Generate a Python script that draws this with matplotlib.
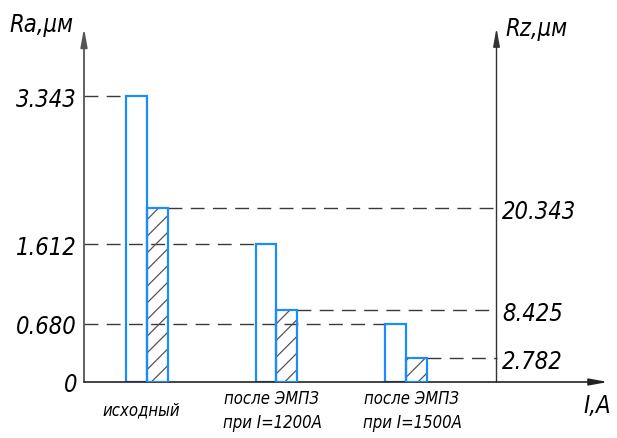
import matplotlib
matplotlib.use("Agg")
import matplotlib.pyplot as plt

# values
categories = ['исходный', 'после ЭМПЗ\nпри I=1200А', 'после ЭМПЗ\nпри I=1500А']
ra_values = [3.343, 1.612, 0.680]
rz_values = [20.343, 8.425, 2.782]
ra_ticks = [0, 0.680, 1.612, 3.343]
ra_ticklabels = ['0', '0.680', '1.612', '3.343']
rz_ticks = [2.782, 8.425, 20.343]
rz_ticklabels = ['2.782', '8.425', '20.343']

plt.rcParams['font.family'] = ['DejaVu Sans']
plt.rcParams['font.style'] = 'italic'
plt.rcParams['font.stretch'] = 'condensed'
plt.rcParams['hatch.linewidth'] = 0.9

BLUE = '#1a8cff'
DASH = '#3a3a3a'
W = 0.162          # bar width (data units)
X_RIGHT = 2.699    # x position of the Rz axis

fig = plt.figure(figsize=(6.17, 4.39), dpi=100)
ax = fig.add_axes([84 / 617, 56 / 439, 524 / 617, 354 / 439])
ax.set_xlim(-0.4865, 3.56)
ax.set_ylim(0, 4.138)
ax2 = ax.twinx()
ax2.set_ylim(0, 41.45)

for a in (ax, ax2):
    for s in a.spines.values():
        s.set_visible(False)
    a.patch.set_visible(False)
ax.set_xticks([])

x = list(range(len(categories)))

# dashed reference lines
for xi, v in zip(x, ra_values):
    ax.hlines(v, ax.get_xlim()[0], xi - W, colors=DASH, linewidth=1,
              linestyles=(0, (10, 6)), zorder=1)
for xi, v in zip(x, rz_values):
    ax2.hlines(v, xi + W, X_RIGHT, colors=DASH, linewidth=1,
               linestyles=(0, (10, 6)), zorder=1)

# bars: Ra open, Rz hatched
ax.bar(x, ra_values, width=-W, align='edge', fill=False,
       edgecolor=BLUE, linewidth=1.6, zorder=3)
ax2.bar(x, rz_values, width=W, align='edge', facecolor='none',
        edgecolor='#555555', linewidth=0, hatch='//', zorder=2)
ax2.bar(x, rz_values, width=W, align='edge', fill=False,
        edgecolor=BLUE, linewidth=1.6, zorder=3)

# axes with arrows
arr = dict(arrowstyle='-|>,head_length=1.1,head_width=0.2', shrinkA=0, shrinkB=0)
ax.annotate('', xy=(0, 1), xytext=(0, 0), xycoords='axes fraction',
            arrowprops=dict(arr, color='#555555', lw=1.3), annotation_clip=False)
ax.annotate('', xy=(X_RIGHT, 1), xytext=(X_RIGHT, 0),
            xycoords=('data', 'axes fraction'),
            arrowprops=dict(arr, color='#333333', lw=1), annotation_clip=False)
ax.annotate('', xy=(1, 0), xytext=(0, 0), xycoords='axes fraction',
            arrowprops=dict(arr, color='#222222', lw=1.2), annotation_clip=False)

# tick labels
ax.set_yticks(ra_ticks)
ax.set_yticklabels(ra_ticklabels)
ax.tick_params(axis='y', length=0, pad=5, labelsize=17)
ax2.spines['right'].set_position(('data', X_RIGHT))
ax2.set_yticks(rz_ticks)
ax2.set_yticklabels(rz_ticklabels)
ax2.tick_params(axis='y', length=0, pad=4, labelsize=17)

# category labels
offsets = [-0.046, -0.035, 0.046]
for xi, lab, off in zip(x, categories, offsets):
    ax.annotate(lab, xy=(xi + off, 0), xycoords=('data', 'axes fraction'),
                xytext=(0, -20), textcoords='offset points',
                ha='center', va='center', fontsize=12, linespacing=1.45)

# axis titles
fig.text(41 / 617, 1 - 25 / 439, 'Ra,μм', ha='center', va='center', fontsize=17)
fig.text(536 / 617, 1 - 29 / 439, 'Rz,μм', ha='center', va='center', fontsize=17)
fig.text(597 / 617, 1 - 406 / 439, 'I,A', ha='center', va='center', fontsize=17)

fig.savefig('out.png', dpi=100)
